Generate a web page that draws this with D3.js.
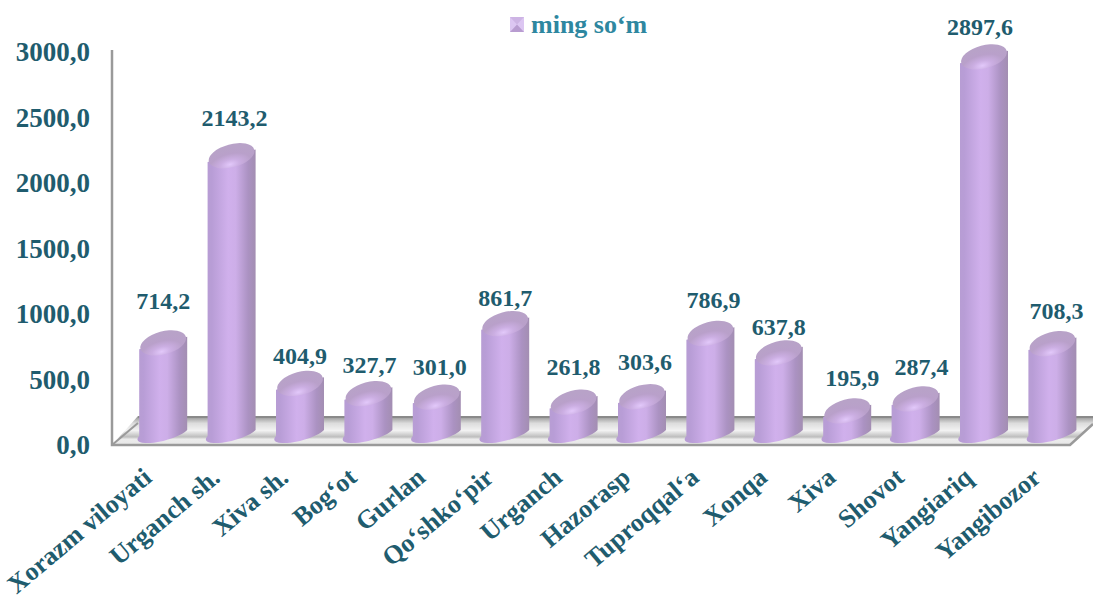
<!DOCTYPE html>
<html lang="en">
<head>
  <meta charset="UTF-8">
  <title>ming so‘m</title>
  <style>
    body { margin: 0; background: #fff; overflow: hidden; }
    svg { display: block; font-family: "Liberation Serif", serif; font-weight: bold; }
  </style>
  <script src="https://d3js.org/d3.v7.min.js"></script>
</head>
<body>
  <div id="chart"></div>
  <script>
    const categories = ["Xorazm viloyati", "Urganch sh.", "Xiva sh.", "Bog‘ot", "Gurlan", "Qo‘shko‘pir", "Urganch",
      "Hazorasp", "Tuproqqal‘a", "Xonqa", "Xiva", "Shovot", "Yangiariq", "Yangibozor"];
    const values = [714.2, 2143.2, 404.9, 327.7, 301.0, 861.7, 261.8, 303.6, 786.9, 637.8, 195.9, 287.4, 2897.6, 708.3];
    const yTicks = [0, 500, 1000, 1500, 2000, 2500, 3000];
    const seriesName = "ming so‘m";

    // labels were placed by hand in the original, so each one gets a small nudge
    const labelDx = [0, 3, 0, 1, 3, 0, 0, 3, 3, 0, 5, 6, -4, 4];
    const labelDy = [-41, -37, -26, -27, -29, -25, -34, -34, -32, -25, -32, -31, -29, -32];

    const width = 1093, height = 603;
    const depth = 10; // bars stand this far up the floor from the front edge
    const capDrop = 1.5;
    const rx = 24, ry = 11.5, tilt = -15;

    const fmt = d => d3.format(".1f")(d).replace(".", ",");

    const svg = d3.select("#chart").append("svg")
      .attr("width", width)
      .attr("height", height);

    const x = d3.scaleBand()
      .domain(categories)
      .range([129, 1086.6])
      .paddingInner(0.3)
      .paddingOuter(0.15);

    const y = d3.scaleLinear()
      .domain([0, 3000])
      .range([445, 52]);

    // gradients
    const defs = svg.append("defs");

    const bodyGrad = defs.append("linearGradient").attr("id", "body");
    [[0, "#b79dd3"], [0.12, "#b89dd6"], [0.45, "#d0b0ec"], [0.6, "#cdaee8"], [0.85, "#ab92c2"], [1, "#a38eb2"]]
      .forEach(s => bodyGrad.append("stop").attr("offset", s[0]).attr("stop-color", s[1]));

    const capGrad = defs.append("radialGradient").attr("id", "cap")
      .attr("cx", 0.42).attr("cy", 0.85).attr("r", 0.7);
    [[0, "#e2c8fa"], [0.3, "#cbaee2"], [0.65, "#b9a0ca"], [1, "#b8a2c8"]]
      .forEach(s => capGrad.append("stop").attr("offset", s[0]).attr("stop-color", s[1]));

    const floorGrad = defs.append("linearGradient").attr("id", "floor")
      .attr("x1", 0).attr("y1", 0).attr("x2", 0).attr("y2", 1);
    [[0, "#8e8e8e"], [0.25, "#dcdcdc"], [0.5, "#f2f2f2"], [0.72, "#bdbdbd"], [0.8, "#ececec"], [1, "#e6e6e6"]]
      .forEach(s => floorGrad.append("stop").attr("offset", s[0]).attr("stop-color", s[1]));

    // floor and walls
    const floorBack = 416, floorRight = 1093, frontRight = 1070, wallX = 112;

    svg.append("path")
      .attr("d", `M${wallX},${y(0)} L138,${floorBack} L${floorRight},${floorBack} L${floorRight},424 L${frontRight},${y(0)} Z`)
      .attr("fill", "url(#floor)");

    svg.append("path")
      .attr("d", `M${wallX},50 L${wallX},${y(0)} L${frontRight},${y(0)} L${floorRight},424`)
      .attr("fill", "none")
      .attr("stroke", "#9a9a9a")
      .attr("stroke-width", 2.5);

    svg.append("path")
      .attr("d", `M${wallX},${y(0)} L138,${floorBack + 7}`)
      .attr("fill", "none")
      .attr("stroke", "#9a9a9a")
      .attr("stroke-width", 2);

    svg.append("line")
      .attr("x1", 138).attr("x2", floorRight)
      .attr("y1", floorBack + 1).attr("y2", floorBack + 1)
      .attr("stroke", "#8a8a8a")
      .attr("stroke-width", 2);

    // y axis
    const yAxis = svg.append("g")
      .attr("transform", "translate(90,0)")
      .call(d3.axisLeft(y).tickValues(yTicks).tickFormat(fmt).tickSize(0).tickPadding(0));
    yAxis.select(".domain").remove();
    yAxis.selectAll("text")
      .attr("font-family", "Liberation Serif")
      .attr("font-size", 27)
      .attr("font-weight", "bold")
      .attr("fill", "#1f5c6e");

    // bars, a cylinder body with a tilted elliptical cap
    const shoulder = Math.sin(-tilt * Math.PI / 180) * rx;
    const bars = svg.selectAll(".bar")
      .data(values)
      .enter()
      .append("g")
      .attr("class", "bar")
      .attr("transform", (d, i) => `translate(${x(categories[i]) + x.bandwidth() / 2},0)`);

    bars.append("path")
      .attr("d", d => {
        const top = y(d) - depth + capDrop, base = y(0) - depth - 1;
        return `M${-rx},${top + shoulder} L${-rx},${base + 2}` +
          ` A${rx},${ry * 0.6} ${tilt} 0 0 ${rx},${base - 4}` +
          ` L${rx},${top - shoulder} Z`;
      })
      .attr("fill", "url(#body)");

    bars.append("ellipse")
      .attr("rx", rx - 0.5)
      .attr("ry", ry)
      .attr("transform", d => `translate(0,${y(d) - depth + capDrop}) rotate(${tilt})`)
      .attr("fill", "url(#cap)");

    // value labels
    svg.selectAll(".value")
      .data(values)
      .enter()
      .append("text")
      .attr("class", "value")
      .attr("x", (d, i) => x(categories[i]) + x.bandwidth() / 2 + labelDx[i])
      .attr("y", (d, i) => y(d) - depth + labelDy[i])
      .attr("dy", "0.35em")
      .attr("text-anchor", "middle")
      .attr("font-size", 24)
      .attr("fill", "#1f5c6e")
      .text(fmt);

    // category labels
    svg.selectAll(".cat")
      .data(categories)
      .enter()
      .append("text")
      .attr("class", "cat")
      .attr("transform", d => `translate(${x(d) + x.bandwidth() / 2 - 10},480) rotate(-40)`)
      .attr("text-anchor", "end")
      .attr("font-size", 26)
      .attr("fill", "#1f5c6e")
      .text(d => d);

    // legend
    const legend = svg.append("g").attr("transform", "translate(510,17)");
    legend.append("rect")
      .attr("width", 14).attr("height", 15)
      .attr("fill", "#dcc6f2");
    legend.append("path")
      .attr("d", "M0,0 L14,0 L7,7.5 Z")
      .attr("fill", "#cdb4e4");
    legend.append("path")
      .attr("d", "M0,15 L14,15 L7,7.5 Z")
      .attr("fill", "#b89cd0");
    legend.append("text")
      .attr("x", 21)
      .attr("y", 16)
      .attr("font-size", 26)
      .attr("fill", "#2e87a0")
      .text(seriesName);
  </script>
</body>
</html>
